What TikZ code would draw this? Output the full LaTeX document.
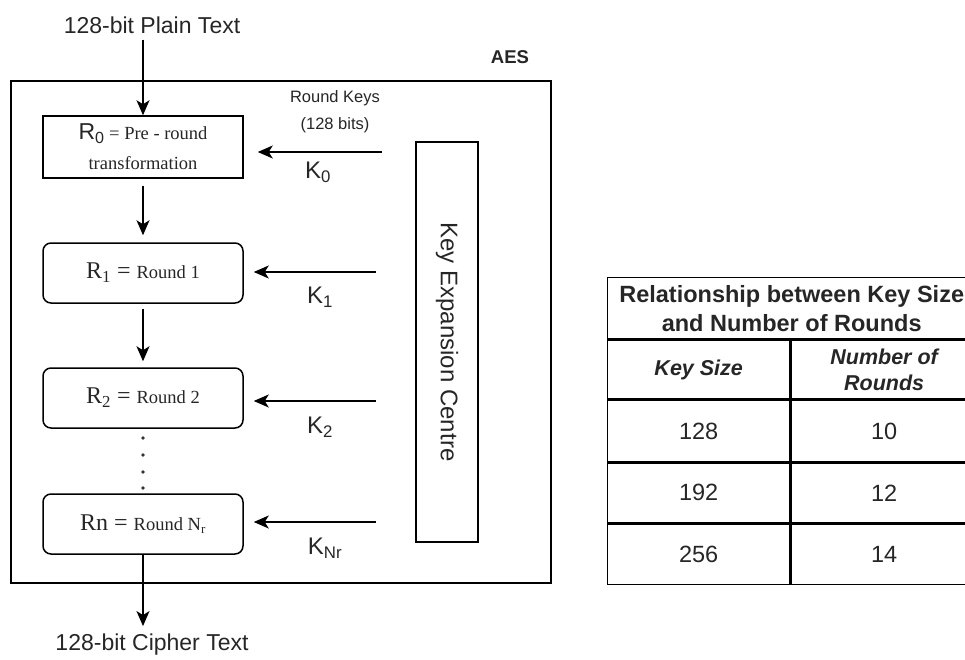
\documentclass[tikz,border=0pt]{standalone}
\usepackage{fontspec}
\setmainfont{Liberation Serif}
\setsansfont{Liberation Sans}
\usetikzlibrary{arrows.meta,positioning}

\tikzset{
  lbl/.style={font=\sffamily\fontsize{23}{27}\selectfont, text=black!85, inner sep=0pt},
  small lbl/.style={font=\sffamily\fontsize{16.5}{19}\selectfont, text=black!85, inner sep=0pt},
  prebox/.style={draw, line width=1.5pt, minimum width=200pt, minimum height=62pt, inner sep=0pt, text=black!85},
  roundbox/.style={prebox, rounded corners=8pt, minimum height=60pt},
  flow/.style={line width=1.5pt, -{Stealth[length=15pt,width=13pt,inset=4pt]}},
  cell/.style={draw, line width=1.4pt, anchor=north west, inner sep=0pt, align=center,
    font=\sffamily\fontsize{23.5}{27}\selectfont, text=black!85},
}

\begin{document}
\begin{tikzpicture}[x=1pt, y=-1pt]
    \useasboundingbox (0,0) rectangle (965,660);

    % input / output
    \node[lbl] (plain) at (152,25) {128-bit Plain Text};
    \node[lbl] (cipher) at (152,645) {128-bit Cipher Text};

    % AES frame
    \node[draw, line width=2pt, anchor=north west, minimum width=540pt, minimum height=502pt] (aes) at (10,80) {};
    \node[lbl, font=\sffamily\bfseries\fontsize{18.5}{21}\selectfont] (aestitle) at (510,57) {AES};
    \node[small lbl] (rkeys) at (335,98) {Round Keys};
    \node[small lbl] (rbits) at (335,125) {(128 bits)};

    % rounds
    \node[prebox, align=center] (r0) at (143,147) {{\sffamily\fontsize{23}{27}\selectfont R\textsubscript{0}}\fontsize{18.5}{20}\selectfont{} = Pre - round\\[12pt]{\fontsize{18.5}{20}\selectfont transformation}};
    \node[roundbox] (r1) at (143,273) {\fontsize{24}{27}\selectfont R\textsubscript{1} = {\fontsize{18.5}{20}\selectfont Round 1}};
    \node[roundbox] (r2) at (143,398) {\fontsize{24}{27}\selectfont R\textsubscript{2} = {\fontsize{18.5}{20}\selectfont Round 2}};
    \node[roundbox] (rn) at (143,524) {\fontsize{24}{27}\selectfont Rn = {\fontsize{18.5}{20}\selectfont Round N\textsubscript{r}}};

    % key expansion
    \node[draw, line width=1.5pt, minimum width=62pt, minimum height=400pt] (kexp) at (447,342) {};
    \node[lbl, font=\sffamily\fontsize{24}{27}\selectfont, rotate=-90] (kexptext) at (kexp.center) {Key Expansion Centre};

    \coordinate (k0) at (382,152);
    \coordinate (k1) at (376,272);
    \coordinate (k2) at (376,401);
    \coordinate (kn) at (376,522);

    % flow
    \draw[flow, shorten <=6pt] (plain.south -| r0.north) -- (r0.north);
    \draw[flow, shorten <=7pt, shorten >=7pt] (r0.south) -- (r1.north);
    \draw[flow, shorten <=5pt, shorten >=6pt] (r1.south) -- (r2.north);
    \draw[flow, shorten >=8pt] (rn.south) -- (cipher.north -| rn.south);
    \foreach \y in {438,455,472,488} \fill[black!80] (143,\y) circle (1.8pt);

    % round keys
    \draw[flow, shorten >=14pt] (k0) -- (k0 -| r0.east);
    \draw[flow, shorten >=10pt] (k1) -- (k1 -| r1.east);
    \draw[flow, shorten >=10pt] (k2) -- (k2 -| r2.east);
    \draw[flow, shorten >=10pt] (kn) -- (kn -| rn.east);
    \node[lbl, font=\sffamily\fontsize{24}{27}\selectfont] (k0l) at (318,172) {K\textsubscript{0}};
    \node[lbl, font=\sffamily\fontsize{24}{27}\selectfont] (k1l) at (320,297) {K\textsubscript{1}};
    \node[lbl, font=\sffamily\fontsize{24}{27}\selectfont] (k2l) at (320,427) {K\textsubscript{2}};
    \node[lbl, font=\sffamily\fontsize{24}{27}\selectfont] (knl) at (325,548) {K\textsubscript{Nr}};

    % table
    \node[cell, minimum width=368pt, minimum height=61pt, font=\sffamily\bfseries\fontsize{23.5}{29}\selectfont] (ttitle) at (607,277) {Relationship between Key Size\\and Number of Rounds};
    \node[cell, minimum width=182pt, minimum height=59pt, font=\sffamily\bfseries\itshape\fontsize{21.5}{26}\selectfont] (hkey) at (ttitle.south west) {Key Size};
    \node[cell, minimum width=186pt, minimum height=59pt, font=\sffamily\bfseries\itshape\fontsize{21.5}{26}\selectfont] (hrounds) at (hkey.north east) {Number of\\Rounds};
    \node[cell, minimum width=182pt, minimum height=61pt] (key1) at (hkey.south west) {128};
    \node[cell, minimum width=186pt, minimum height=61pt] (nr1) at (key1.north east) {10};
    \node[cell, minimum width=182pt, minimum height=60pt] (key2) at (key1.south west) {192};
    \node[cell, minimum width=186pt, minimum height=60pt] (nr2) at (key2.north east) {12};
    \node[cell, minimum width=182pt, minimum height=60pt] (key3) at (key2.south west) {256};
    \node[cell, minimum width=186pt, minimum height=60pt] (nr3) at (key3.north east) {14};
\end{tikzpicture}
\end{document}
